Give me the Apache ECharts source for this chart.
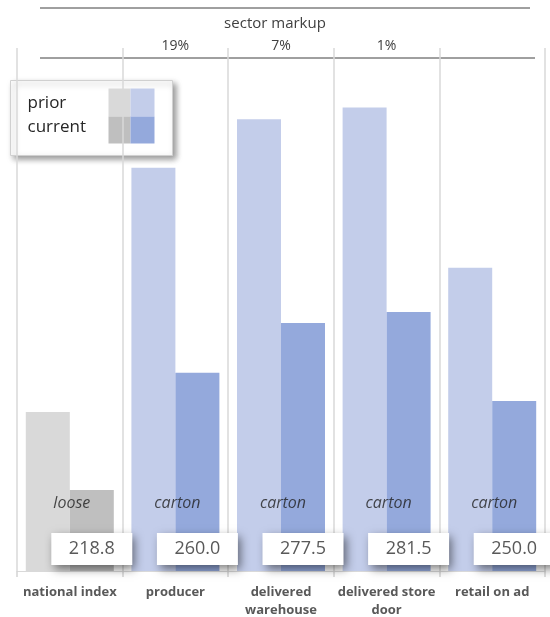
<!DOCTYPE html>
<html>
<head>
<meta charset="utf-8">
<script src="https://cdn.jsdelivr.net/npm/echarts@6/dist/echarts.min.js"></script>
<style>
  html, body { margin: 0; padding: 0; background: #fff; }
  #chart { width: 550px; height: 617px; }
</style>
</head>
<body>
<div id="chart"></div>
<script>
const categories = ['national index', 'producer', 'delivered\nwarehouse', 'delivered store\ndoor', 'retail on ad']

// bar heights (share of chart height, 0-100)
const priorValues = [30.4, 77.1, 86.4, 88.6, 58.0]
const currentValues = [15.5, 37.9, 47.4, 49.5, 32.5]

// boxed price labels and pack type
const priceLabels = ['218.8', '260.0', '277.5', '281.5', '250.0']
const packType = ['loose', 'carton', 'carton', 'carton', 'carton']

// markup between sectors, shown on top of the chart
const markups = ['', '19%', '7%', '1%', '']

const priorColors = ['#d9d9d9', '#c3cdea', '#c3cdea', '#c3cdea', '#c3cdea']
const currentColors = ['#bfbfbf', '#94a9dc', '#94a9dc', '#94a9dc', '#94a9dc']

const font = '"Open Sans", sans-serif'
const chart = echarts.init(document.getElementById('chart'))

chart.setOption({
  animation: false,
  title: {
    text: 'sector markup',
    left: 'center',
    top: 11,
    textStyle: { color: '#404040', fontSize: 15, fontWeight: 'normal', fontFamily: font }
  },
  grid: { left: 17, right: 5, top: 48, bottom: 46, outerBoundsMode: 'none', containLabel: false },
  xAxis: [
    {
      type: 'category',
      data: categories,
      axisLine: { lineStyle: { color: '#d9d9d9', width: 1 } },
      axisTick: { show: true, length: 6, lineStyle: { color: '#d4d4d4', width: 1.5 } },
      splitLine: { show: true, lineStyle: { color: '#d9d9d9', width: 1.5 } },
      axisLabel: {
        color: '#595959',
        fontSize: 13,
        fontWeight: 'bold',
        fontFamily: font,
        lineHeight: 18,
        margin: 12,
        interval: 0
      }
    },
    {
      type: 'category',
      position: 'top',
      data: categories,
      axisLine: { show: false },
      axisTick: { show: false },
      axisLabel: {
        color: '#404040',
        fontSize: 14,
        fontFamily: font,
        margin: -5,
        interval: 0,
        formatter: (v, i) => markups[i]
      }
    }
  ],
  yAxis: { type: 'value', min: 0, max: 100, show: false },
  series: [
    {
      name: 'prior',
      type: 'bar',
      barWidth: 44,
      barGap: '0%',
      data: priorValues,
      itemStyle: { color: p => priorColors[p.dataIndex] },
      z: 2
    },
    {
      name: 'current',
      type: 'bar',
      barWidth: 44,
      data: currentValues,
      itemStyle: { color: p => currentColors[p.dataIndex] },
      label: {
        show: true,
        position: 'insideBottom',
        distance: 6,
        formatter: p => priceLabels[p.dataIndex],
        color: '#595959',
        fontSize: 18,
        fontFamily: font,
        backgroundColor: '#fff',
        width: 81,
        height: 32,
        lineHeight: 32,
        align: 'center',
        shadowBlur: 9,
        shadowColor: 'rgba(0,0,0,0.5)',
        shadowOffsetX: 3,
        shadowOffsetY: 4
      },
      z: 3
    },
    {
      // pack type text, placed on the category centre above the axis
      name: 'pack',
      type: 'scatter',
      symbolSize: 0,
      silent: true,
      data: categories.map((c, i) => [i, 0]),
      label: {
        show: true,
        position: 'top',
        distance: 60,
        offset: [2, 0],
        formatter: p => packType[p.dataIndex],
        color: '#1f1f1f',
        fontSize: 16,
        fontStyle: 'italic',
        fontFamily: font
      },
      z: 10
    }
  ],
  graphic: [
    { type: 'line', shape: { x1: 40, y1: 8, x2: 530, y2: 8 }, style: { stroke: '#404040', lineWidth: 1 } },
    { type: 'line', shape: { x1: 40, y1: 58, x2: 535, y2: 58 }, style: { stroke: '#404040', lineWidth: 1 } },
    {
      type: 'group',
      left: 10,
      top: 80,
      z: 100,
      children: [
        {
          type: 'rect',
          shape: { x: 0, y: 0, width: 162, height: 75 },
          style: {
            fill: '#fff', stroke: '#d0d0d0', lineWidth: 1,
            shadowBlur: 6, shadowOffsetX: 3, shadowOffsetY: 3, shadowColor: 'rgba(0,0,0,0.4)'
          }
        },
        { type: 'text', x: 17, y: 23, style: { text: 'prior', fill: '#262626', font: '17px "Open Sans"', verticalAlign: 'middle' } },
        { type: 'text', x: 17, y: 47, style: { text: 'current', fill: '#262626', font: '17px "Open Sans"', verticalAlign: 'middle' } },
        { type: 'rect', shape: { x: 98, y: 8, width: 22, height: 28 }, style: { fill: '#d9d9d9' } },
        { type: 'rect', shape: { x: 120, y: 8, width: 24, height: 28 }, style: { fill: '#c3cdea' } },
        { type: 'rect', shape: { x: 98, y: 36, width: 22, height: 27 }, style: { fill: '#bfbfbf' } },
        { type: 'rect', shape: { x: 120, y: 36, width: 24, height: 27 }, style: { fill: '#94a9dc' } }
      ]
    }
  ]
})
</script>
</body>
</html>
